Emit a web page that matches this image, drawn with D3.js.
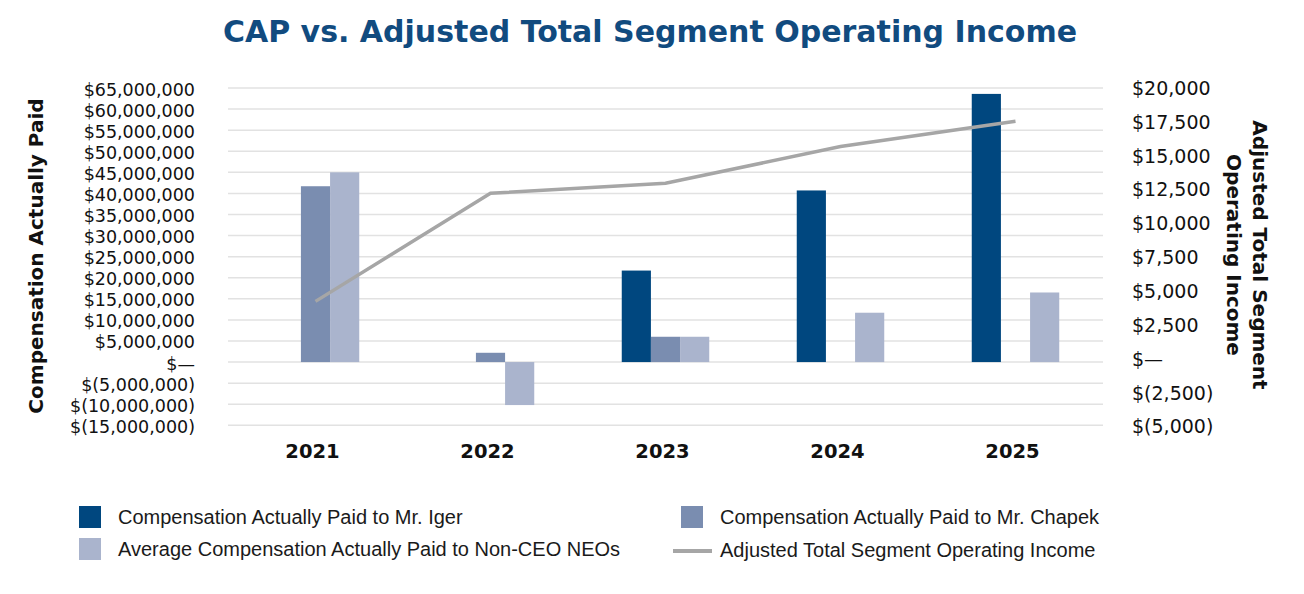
<!DOCTYPE html>
<html>
<head>
<meta charset="utf-8">
<script src="https://cdn.jsdelivr.net/npm/d3@7"></script>
<style>
  body { margin: 0; background: #fff; }
</style>
</head>
<body>
<svg id="chart" width="1304" height="594" font-family="Liberation Sans, Arial, sans-serif"></svg>
<script>
const years = ['2021', '2022', '2023', '2024', '2025'];
// CAP values in dollars, null = no bar that year
const igerCap = [null, null, 21700000, 40700000, 63600000];
const chapekCap = [41700000, 2200000, 6000000, null, null];
const neoCap = [45000000, -10200000, 6000000, 11700000, 16500000];
// adjusted total segment operating income, $ millions
const segmentIncome = [4150, 12130, 12870, 15580, 17450];

const leftTicks = d3.range(-15000000, 65000001, 5000000);
const rightTicks = d3.range(-5000, 20001, 2500);

const series = [
  {name: 'Compensation Actually Paid to Mr. Iger', values: igerCap, color: '#00477f'},
  {name: 'Compensation Actually Paid to Mr. Chapek', values: chapekCap, color: '#7a8db0'},
  {name: 'Average Compensation Actually Paid to Non-CEO NEOs', values: neoCap, color: '#aab4cd'},
];
const lineName = 'Adjusted Total Segment Operating Income';
const lineColor = '#a6a6a6';

const wideFont = 'DejaVu Sans, Verdana, sans-serif';
const plainFont = 'Liberation Sans, Arial, sans-serif';

const svg = d3.select('#chart');
const plotLeft = 228, plotRight = 1103, plotTop = 88, plotBottom = 425.3;

const x0 = d3.scaleBand()
  .domain(years)
  .range([plotLeft, plotRight])
  .paddingInner(0.5)
  .paddingOuter(0.25);
const x1 = d3.scaleBand()
  .domain(series.map((s) => s.name))
  .range([0, x0.bandwidth()]);
const yL = d3.scaleLinear().domain([-15000000, 65000000]).range([plotBottom, plotTop]);
const yR = d3.scaleLinear().domain([-5000, 20000]).range([plotBottom, 86.7]);

const money = (v) => {
  if (v === 0) return '$\u2014';
  const s = d3.format(',')(Math.abs(v));
  return v < 0 ? '$(' + s + ')' : '$' + s;
};

// title
svg.append('text')
  .attr('x', 650)
  .attr('y', 42)
  .attr('text-anchor', 'middle')
  .attr('font-family', wideFont)
  .attr('font-size', 30)
  .attr('font-weight', 'bold')
  .attr('fill', '#114b7f')
  .text('CAP vs. Adjusted Total Segment Operating Income');

// gridlines
svg.append('g')
  .selectAll('line')
  .data(leftTicks)
  .enter()
  .append('line')
  .attr('x1', plotLeft)
  .attr('x2', plotRight)
  .attr('y1', (d) => yL(d))
  .attr('y2', (d) => yL(d))
  .attr('stroke', '#e2e2e2')
  .attr('stroke-width', 1.5);

// left axis
const axisL = svg.append('g')
  .attr('transform', `translate(${plotLeft - 33},0)`)
  .call(d3.axisLeft(yL).tickValues(leftTicks).tickFormat(money).tickSize(0).tickPadding(0));
axisL.select('.domain').remove();
axisL.attr('font-family', wideFont).attr('font-size', 17.5);
axisL.selectAll('text')
  .attr('fill', '#111')
  .attr('dy', '0.4em');

// right axis
const axisR = svg.append('g')
  .attr('transform', `translate(${plotRight + 29},0)`)
  .call(d3.axisRight(yR).tickValues(rightTicks).tickFormat(money).tickSize(0).tickPadding(0));
axisR.select('.domain').remove();
axisR.attr('font-family', wideFont).attr('font-size', 19);
axisR.selectAll('text')
  .attr('fill', '#111')
  .attr('dy', '0.4em');

// x axis labels
const axisX = svg.append('g')
  .attr('transform', `translate(0,444)`)
  .call(d3.axisBottom(x0).tickSize(0).tickPadding(0));
axisX.select('.domain').remove();
axisX.attr('font-family', wideFont).attr('font-size', 19.5);
axisX.selectAll('text')
  .attr('font-weight', 'bold')
  .attr('fill', '#111')
  .attr('dx', -3);

// axis titles
svg.append('text')
  .attr('transform', 'translate(43,256) rotate(-90)')
  .attr('text-anchor', 'middle')
  .attr('font-family', wideFont)
  .attr('font-size', 20)
  .attr('font-weight', 'bold')
  .attr('fill', '#111')
  .text('Compensation Actually Paid');

const rt = svg.append('text')
  .attr('transform', 'translate(1253,255) rotate(90)')
  .attr('text-anchor', 'middle')
  .attr('font-family', wideFont)
  .attr('font-size', 20)
  .attr('font-weight', 'bold')
  .attr('fill', '#111');
rt.append('tspan').attr('x', 0).attr('dy', 0).text('Adjusted Total Segment');
rt.append('tspan').attr('x', 0).attr('dy', 26).text('Operating Income');

// bars
const bars = [];
years.forEach((yr, i) => {
  series.forEach((s) => {
    if (s.values[i] !== null) bars.push({year: yr, name: s.name, value: s.values[i], color: s.color});
  });
});
svg.append('g')
  .selectAll('rect')
  .data(bars)
  .enter()
  .append('rect')
  .attr('x', (d) => x0(d.year) + x1(d.name))
  .attr('width', x1.bandwidth())
  .attr('y', (d) => Math.min(yL(d.value), yL(0)))
  .attr('height', (d) => Math.abs(yL(d.value) - yL(0)))
  .attr('fill', (d) => d.color);

// line
const line = d3.line()
  .x((d, i) => x0(years[i]) + x0.bandwidth() / 2)
  .y((d) => yR(d));
svg.append('path')
  .datum(segmentIncome)
  .attr('d', line)
  .attr('fill', 'none')
  .attr('stroke', lineColor)
  .attr('stroke-width', 3.5);

// legend
const legendItems = [
  {name: series[0].name, color: series[0].color, type: 'box', x: 79, y: 517},
  {name: series[1].name, color: series[1].color, type: 'box', x: 681, y: 517},
  {name: series[2].name, color: series[2].color, type: 'box', x: 79, y: 549},
  {name: lineName, color: lineColor, type: 'line', x: 681, y: 550},
];
const lg = svg.append('g')
  .selectAll('g')
  .data(legendItems)
  .enter()
  .append('g')
  .attr('transform', (d) => `translate(${d.x},${d.y})`);
lg.filter((d) => d.type === 'box')
  .append('rect')
  .attr('x', 0)
  .attr('y', -11)
  .attr('width', 22)
  .attr('height', 22)
  .attr('fill', (d) => d.color);
lg.filter((d) => d.type === 'line')
  .append('line')
  .attr('x1', -8)
  .attr('x2', 31)
  .attr('y1', 1)
  .attr('y2', 1)
  .attr('stroke', (d) => d.color)
  .attr('stroke-width', 4);
lg.append('text')
  .attr('x', 39)
  .attr('y', 0)
  .attr('dy', '0.35em')
  .attr('font-family', plainFont)
  .attr('font-size', 20)
  .attr('fill', '#1a1a1a')
  .text((d) => d.name);
</script>
</body>
</html>
